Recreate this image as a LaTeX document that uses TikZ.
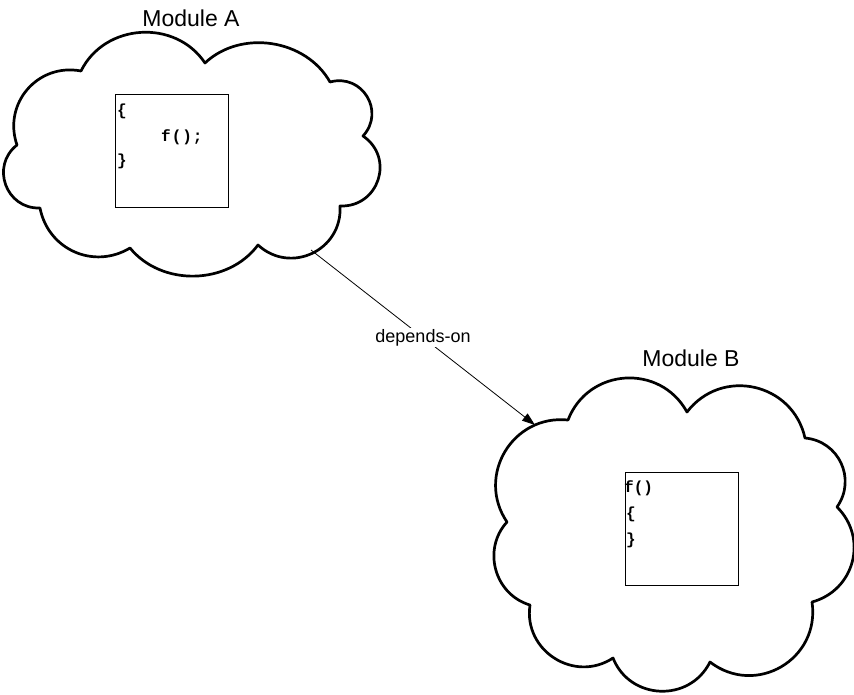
\documentclass[tikz,border=0pt]{standalone}
\usepackage{fontspec}
\setmainfont{Liberation Sans}
\newfontfamily\codefont{Liberation Mono}
\usetikzlibrary{arrows.meta}
\tikzset{
  cloudline/.style={line width=2.7pt, line join=round, black},
  codebox/.style={draw=black, line width=0.9pt},
  codetext/.style={anchor=base west, inner sep=0pt, font=\codefont\bfseries\fontsize{16}{18}\selectfont},
  modtitle/.style={anchor=base, inner sep=0pt, font=\fontsize{23}{27}\selectfont},
  dep/.style={line width=0.8pt, -{Triangle[length=13pt,width=9pt]}},
  deplabel/.style={fill=white, inner sep=1.5pt, font=\fontsize{18}{21}\selectfont}
}
\begin{document}
\begin{tikzpicture}[x=1pt,y=-1pt]
\useasboundingbox (0,0) rectangle (854,694);
% Cloud A
\draw[cloudline] (81,71) to[bend left=60,looseness=1.1] (205,63)
  to[bend left=52] (330,82)
  to[bend left=74,looseness=1.35] (363,136)
  to[bend left=74,looseness=1.35] (340,206)
  to[bend left=68,looseness=1.25] (258,245)
  to[bend left=52] (130,248)
  to[bend left=55,looseness=1.1] (40,208)
  to[bend left=72,looseness=1.3] (17,145)
  to[bend left=60,looseness=1.15] cycle;
% Cloud B
\draw[cloudline] (568,420) to[bend left=65,looseness=1.2] (687,412)
  to[bend left=65,looseness=1.2] (805,438)
  to[bend left=60,looseness=1.15] (837,507)
  to[bend left=60,looseness=1.15] (812,602)
  to[bend left=68,looseness=1.25] (710,662)
  to[bend left=66,looseness=1.2] (613,658)
  to[bend left=66,looseness=1.2] (530,605)
  to[bend left=58,looseness=1.1] (507,522)
  to[bend left=65,looseness=1.2] cycle;
% Titles
\node[modtitle] (titleA) at (191,26) {Module A};
\node[modtitle] (titleB) at (691,366) {Module B};
% Code boxes
\node[codebox, minimum width=113pt, minimum height=113pt, inner sep=0pt] (boxA) at (171.5,150.5) {};
\node[codebox, minimum width=113pt, minimum height=113pt, inner sep=0pt] (boxB) at (681.5,528.5) {};
\node[codetext] (a1) at (117,115) {\{};
\node[codetext] (a2) at (161,141) {f\kern1pt(\kern1pt)\kern1pt;};
\node[codetext] (a3) at (117,165) {\}};
\node[codetext] (b1) at (624,492) {f()};
\node[codetext] (b2) at (626,518) {\{};
\node[codetext] (b3) at (626,544) {\}};
% Dependency
\coordinate (aout) at (311,250);
\coordinate (bin) at (535,425);
\draw[dep] (aout) -- node[deplabel] (lbl) {depends-on} (bin);
\end{tikzpicture}
\end{document}
